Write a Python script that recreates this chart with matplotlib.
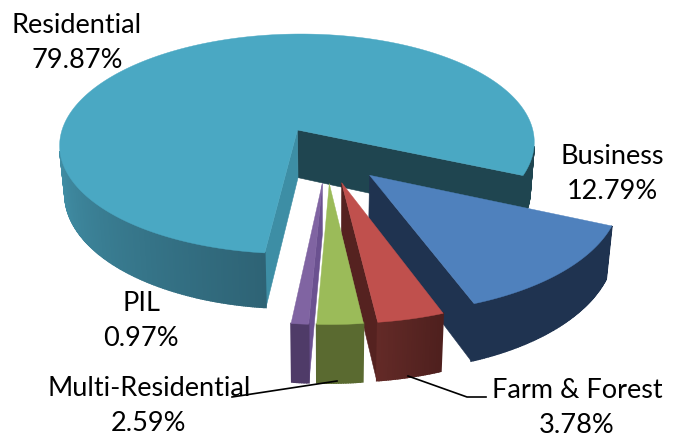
import numpy as np
from matplotlib import pyplot as plt
from matplotlib.colors import to_rgb

# exploded 3d pie, matplotlib has no 3d pie so slices are projected by hand

categories = ['Residential', 'PIL', 'Multi-Residential', 'Farm & Forest', 'Business']
shares = [79.87, 0.97, 2.59, 3.78, 12.79]

top_colors = ['#4aa8c3', '#8064a2', '#9bbb59', '#c0504d', '#4f81bd']
start_wall = ['#1f4550', '#4f3b68', '#5a6a30', '#552220', '#1f3350']
end_wall = ['#3d8ea5', '#6b5190', '#5a6a30', '#552220', '#1f3350']
arc_from = ['#4496ae', '#4f3b68', '#5a6a30', '#632a27', '#1f3350']
arc_to = ['#2e6375', '#4f3b68', '#5a6a30', '#4f201e', '#1f3350']
label_xy = [(77, 43), (141, 321), (149, 406), (577, 408), (612, 174)]
draw_order = [0, 4, 3, 1, 2]

START_ANGLE = -23.6
EXPLODE = 0.25
VX = 327
A = 242
K = 0.13
HY = -725
C = 879
DEPTH = 49
BOTTOM_SHRINK = 0.98


def project(x, z, bottom=False):
    s = 1 / (1 + K * z)
    sx = A * x * s
    sy = HY + (C + DEPTH if bottom else C) * s
    if bottom:
        sx = sx * BOTTOM_SHRINK
    return VX + sx, sy


def facet(ax, p, q, color, zorder, lw=0.4):
    xs = [project(p[0], p[1])[0], project(q[0], q[1])[0],
          project(q[0], q[1], True)[0], project(p[0], p[1], True)[0]]
    ys = [project(p[0], p[1])[1], project(q[0], q[1])[1],
          project(q[0], q[1], True)[1], project(p[0], p[1], True)[1]]
    area = 0
    for i in range(4):
        area += xs[i] * ys[(i + 1) % 4] - xs[(i + 1) % 4] * ys[i]
    if area <= 0:
        return False
    ax.fill(xs, ys, color=color, lw=lw, zorder=zorder)
    return True


fig = plt.figure(figsize=(6.74, 4.37), dpi=100)
ax = fig.add_axes([0, 0, 1, 1])
ax.set_xlim(0, 674)
ax.set_ylim(437, 0)
ax.axis('off')

edges = START_ANGLE + np.cumsum([0] + shares) * 360 / sum(shares)

for order, i in enumerate(draw_order):
    a0, a1 = edges[i], edges[i + 1]
    mid = np.radians((a0 + a1) / 2)
    ox, oz = EXPLODE * np.cos(mid), EXPLODE * np.sin(mid)
    t = np.radians(np.linspace(a0, a1, int((a1 - a0) * 2) + 2))
    rx = ox + np.cos(t)
    rz = oz + np.sin(t)
    z = order * 10 + 1

    facet(ax, (ox, oz), (rx[0], rz[0]), start_wall[i], z)
    facet(ax, (rx[-1], rz[-1]), (ox, oz), end_wall[i], z)

    # outer wall, gradient across the part that can be seen
    c0, c1 = np.array(to_rgb(arc_from[i])), np.array(to_rgb(arc_to[i]))
    for k in range(len(t) - 1):
        frac = k / max(len(t) - 2, 1)
        if categories[i] == 'Residential':
            # only the front-left stretch carries the gradient
            frac = np.clip((np.degrees(t[k]) - 180) / (a1 - 180), 0, 1)
            color = start_wall[i] if np.cos(t[k]) > 0 else tuple(c0 + (c1 - c0) * frac)
        else:
            color = tuple(c0 + (c1 - c0) * frac)
        facet(ax, (rx[k], rz[k]), (rx[k + 1], rz[k + 1]), color, z + 1, lw=1.2)

    xs, ys = project(np.r_[ox, rx], np.r_[oz, rz])
    ax.fill(xs, ys, color=top_colors[i], lw=0.3, zorder=z + 2)

# leader lines
ax.plot([232, 337], [397, 381], color='black', lw=1.2, zorder=100)
ax.plot([408, 467, 486], [376, 397, 397], color='black', lw=1.2, zorder=100)

for i, name in enumerate(categories):
    ax.text(label_xy[i][0], label_xy[i][1], name + '\n' + '%.2f%%' % shares[i],
            ha='center', va='center', fontsize=19.5, family='Lato',
            linespacing=1.47, zorder=101)

fig.savefig('out.png', dpi=100)
